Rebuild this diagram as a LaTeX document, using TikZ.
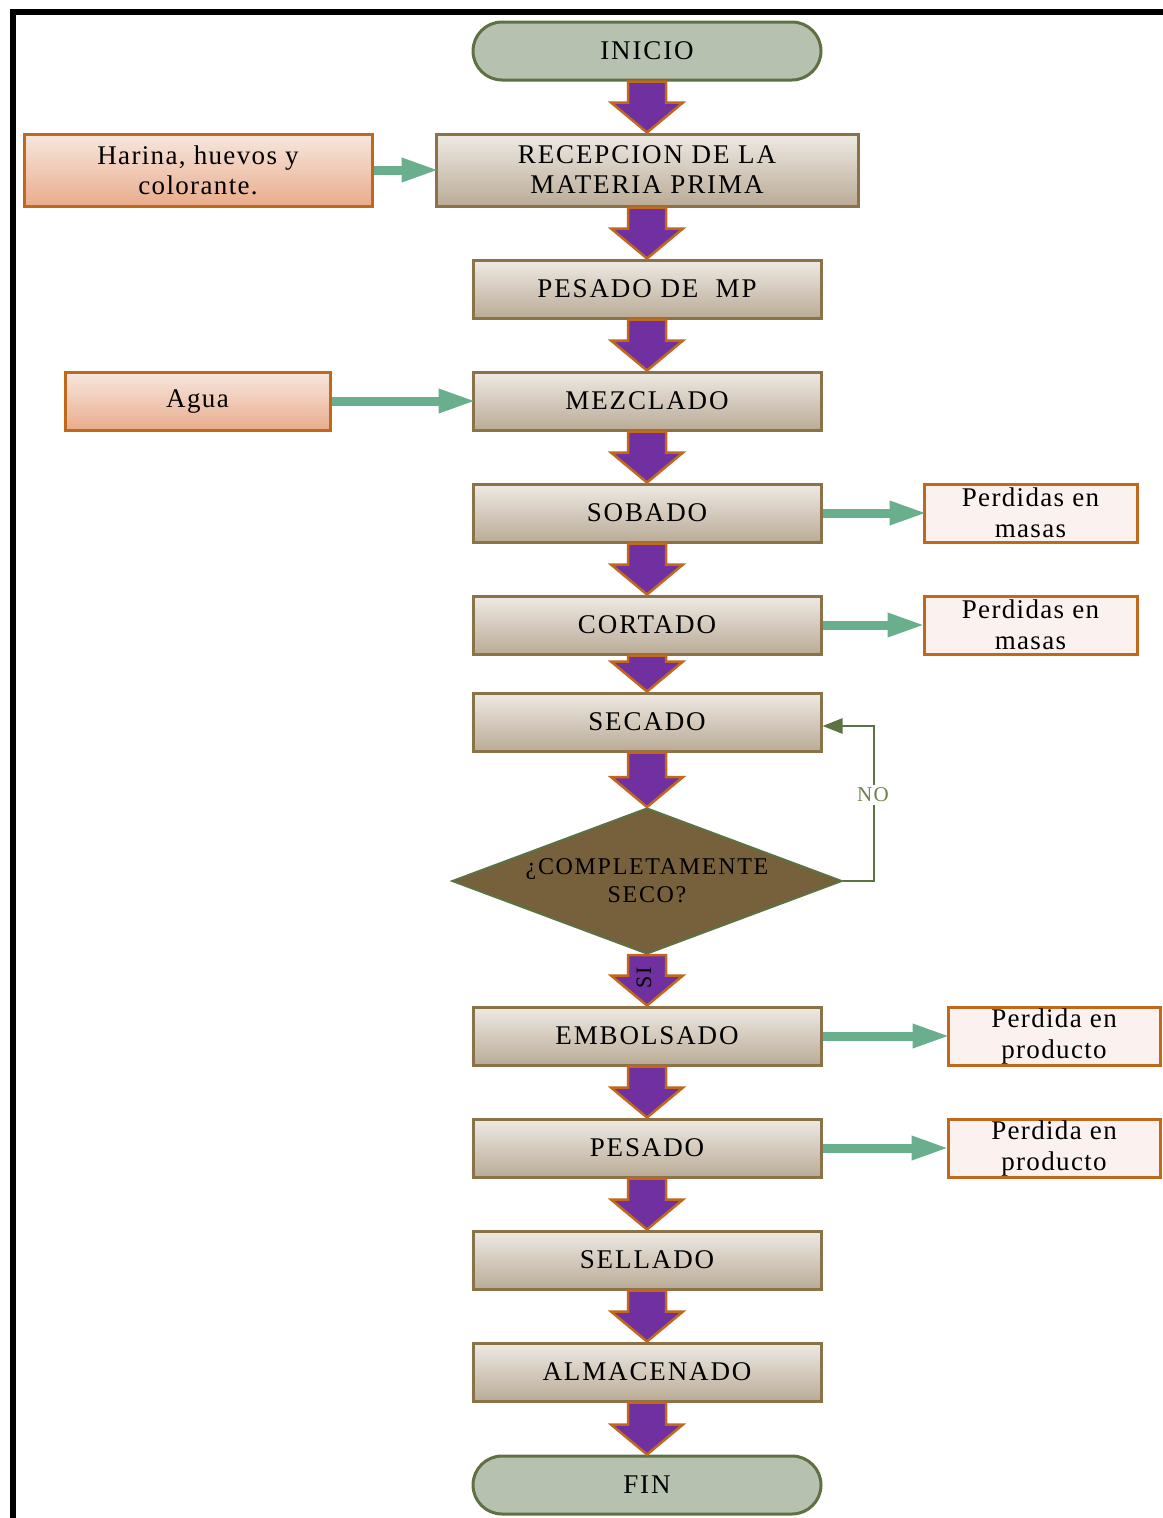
\documentclass[tikz,border=0pt]{standalone}
\usepackage{fontspec}
\setmainfont{Liberation Serif}
\newfontfamily\capsfont[LetterSpace=7]{Liberation Serif}
\newfontfamily\sidefont[LetterSpace=5]{Liberation Serif}
\usetikzlibrary{shapes.geometric,arrows.meta,calc}

\definecolor{purpleA}{HTML}{7030A0}
\definecolor{orangeB}{HTML}{C0681C}
\definecolor{boxTop}{HTML}{EEEAE4}
\definecolor{boxBot}{HTML}{BAAB96}
\definecolor{boxLine}{HTML}{8C7249}
\definecolor{termFill}{HTML}{B6C1AF}
\definecolor{termLine}{HTML}{5F7043}
\definecolor{decFill}{HTML}{76613C}
\definecolor{decLine}{HTML}{5B7242}
\definecolor{flowGreen}{HTML}{69AF8E}
\definecolor{inTop}{HTML}{F7E7DF}
\definecolor{inBot}{HTML}{E9AC8C}
\definecolor{lossFill}{HTML}{FBF2EF}
\definecolor{noGreen}{HTML}{6E8250}

\tikzset{
  process/.style={draw=boxLine, line width=3pt, top color=boxTop, bottom color=boxBot,
    minimum width=348pt, minimum height=58pt, inner sep=0pt, align=center,
    font=\fontsize{27}{30}\selectfont\capsfont},
  terminal/.style={draw=termLine, line width=3pt, fill=termFill, rounded corners=29pt,
    minimum width=348pt, minimum height=58pt, inner sep=0pt,
    font=\fontsize{27}{30}\selectfont\capsfont},
  decision/.style={diamond, aspect=2.67, draw=decLine, line width=2pt, fill=decFill,
    minimum width=390pt, minimum height=146pt, inner sep=0pt},
  inputbox/.style={draw=orangeB, line width=3pt, top color=inTop, bottom color=inBot,
    inner sep=0pt, align=center, font=\fontsize{27}{30}\selectfont\sidefont},
  lossbox/.style={draw=orangeB, line width=3pt, fill=lossFill, minimum width=213pt,
    minimum height=58pt, inner sep=0pt, align=center,
    font=\fontsize{27}{31}\selectfont\sidefont},
  blockarrow/.style={fill=purpleA, draw=orangeB, line width=2.5pt, line join=miter},
  greenflow/.style={draw=flowGreen, line width=9pt, -{Triangle[length=38pt,width=22pt]}},
  noline/.style={draw=decLine, line width=2.5pt, -{Triangle[length=20pt,width=15pt]}},
}

% broad purple arrow from the bottom of one step to the top of the next
\newcommand\stepdown[2]{%
  \draw[blockarrow] let \p1=(#1.south), \p2=(#2.north) in
    (\x1-19pt,\y1) -- (\x1-19pt,\y2+30pt) -- (\x1-36pt,\y2+30pt) -- (\x2,\y2)
    -- (\x1+36pt,\y2+30pt) -- (\x1+19pt,\y2+30pt) -- (\x1+19pt,\y1) -- cycle;}

\begin{document}
\begin{tikzpicture}[x=1pt, y=-1pt]
\useasboundingbox (0,0) rectangle (1162,1518);

% frame lines on the left and top
\draw[line width=6pt, line join=miter] (13,1530) -- (13,12) -- (1170,12);

% main sequence
\node[terminal] (inicio) at (647,51) {INICIO};
\node[process, minimum width=422pt, minimum height=72pt] (recep) at (647,170)
  {RECEPCION DE LA\\MATERIA PRIMA};
\node[process] (pesmp) at (647,289) {PESADO DE\ \ MP};
\node[process] (mezcla) at (647,401) {MEZCLADO};
\node[process] (sobado) at (647,513) {SOBADO};
\node[process] (cortado) at (647,625) {CORTADO};
\node[process] (secado) at (647,722) {SECADO};
\node[decision, label={[font=\fontsize{24}{28}\selectfont\capsfont, align=center]center:{¿COMPLETAMENTE\\SECO?}}] (dec) at (647,881) {};
\node[process] (embol) at (647,1036) {EMBOLSADO};
\node[process] (pesado) at (647,1148) {PESADO};
\node[process] (sellado) at (647,1260) {SELLADO};
\node[process] (almac) at (647,1372) {ALMACENADO};
\node[terminal] (fin) at (647,1485) {FIN};

% inputs
\node[inputbox, minimum width=348pt, minimum height=72pt] (harina) at (198,170)
  {Harina, huevos y\\colorante.};
\node[inputbox, minimum width=265pt, minimum height=58pt] (agua) at (197.5,401) {Agua};

% losses
\node[lossbox] (loss1) at (1030.5,513) {Perdidas en\\masas};
\node[lossbox] (loss2) at (1030.5,625) {Perdidas en\\masas};
\node[lossbox, minimum width=212pt] (loss3) at (1054,1036) {Perdida en\\producto};
\node[lossbox, minimum width=212pt] (loss4) at (1054,1148) {Perdida en\\producto};

% purple flow arrows
\stepdown{inicio}{recep}
\stepdown{recep}{pesmp}
\stepdown{pesmp}{mezcla}
\stepdown{mezcla}{sobado}
\stepdown{sobado}{cortado}
\stepdown{cortado}{secado}
\stepdown{secado}{dec}
\stepdown{dec}{embol}
\stepdown{embol}{pesado}
\stepdown{pesado}{sellado}
\stepdown{sellado}{almac}
\stepdown{almac}{fin}

\node[rotate=90, font=\fontsize{22}{24}\selectfont\capsfont, inner sep=0pt] (si) at (644,978) {SI};

% green input / loss arrows
\draw[greenflow] (harina.east) -- ([xshift=5pt]recep.west);
\draw[greenflow] (agua.east) -- ([xshift=5pt]mezcla.west);
\draw[greenflow] (sobado.east) -- ([xshift=5pt]loss1.west);
\draw[greenflow] (cortado.east) -- ([xshift=3pt]loss2.west);
\draw[greenflow] (embol.east) -- ([xshift=4pt]loss3.west);
\draw[greenflow] (pesado.east) -- ([xshift=3pt]loss4.west);

% return loop when not dry
\draw[noline] (dec.east) -- ++(31pt,0) |- ([yshift=-4pt]secado.east);
\node[fill=white, inner sep=3pt, text=noGreen, font=\fontsize{21}{24}\selectfont\capsfont] (nolab) at (873,795) {NO};
\end{tikzpicture}
\end{document}
